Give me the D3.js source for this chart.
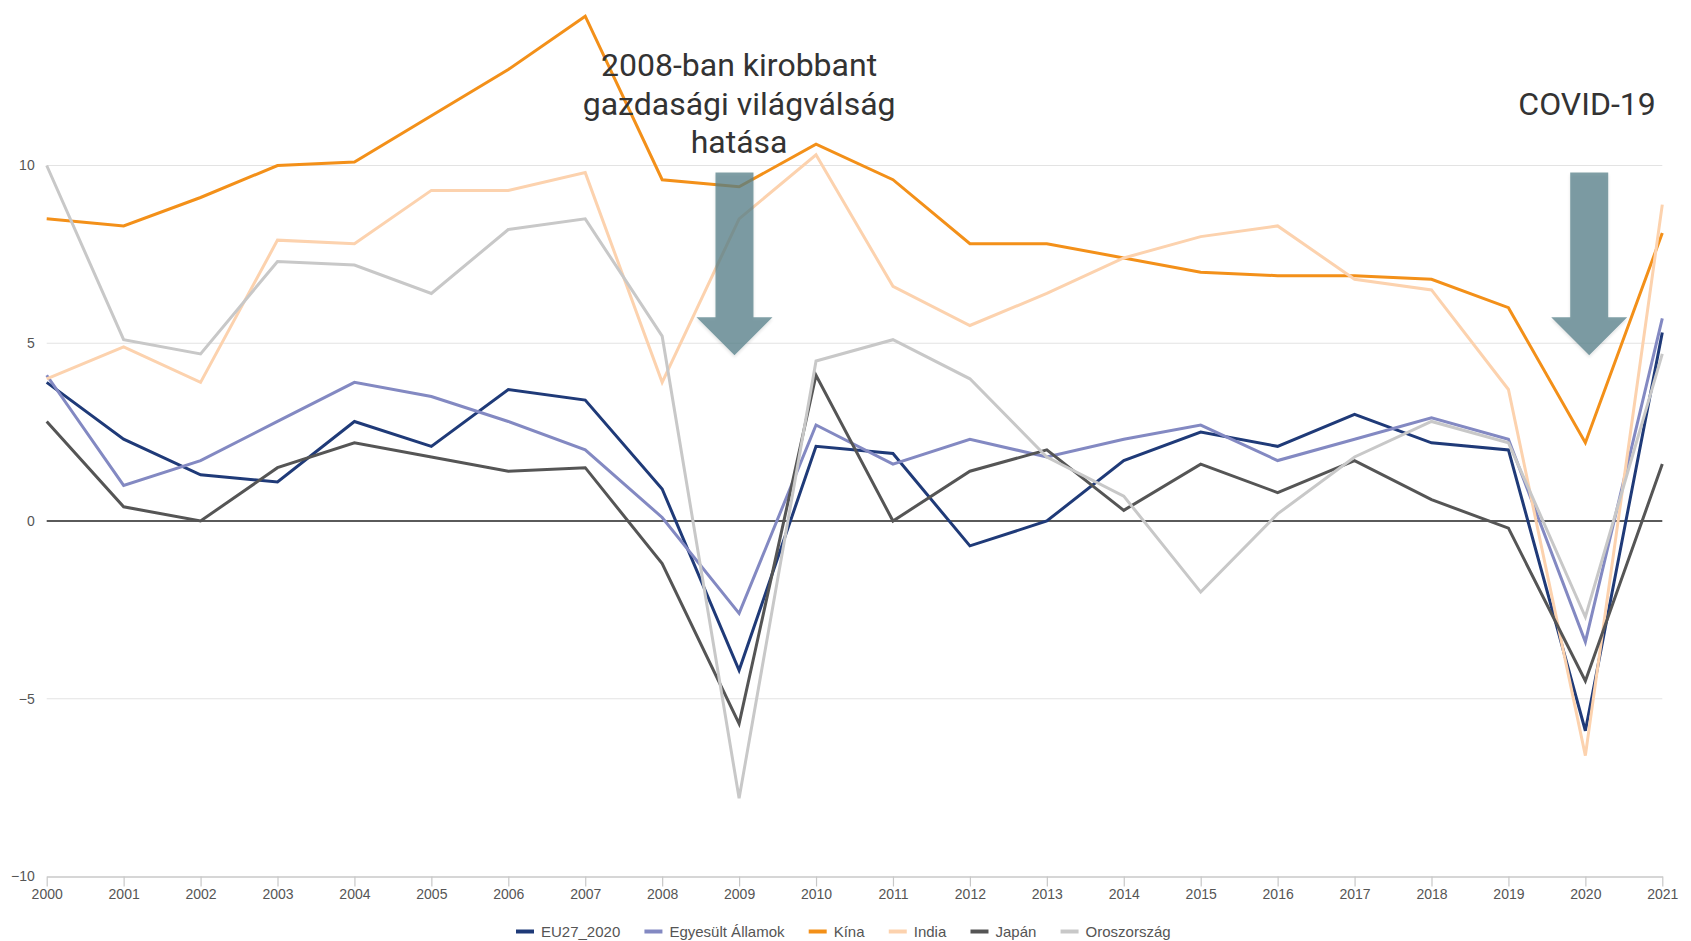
<!DOCTYPE html>
<html>
<head>
<meta charset="utf-8">
<script src="https://cdn.jsdelivr.net/npm/d3@7"></script>
<style>
  body { margin: 0; background: #fff; }
  svg { display: block; }
</style>
</head>
<body>
<svg id="chart" width="1691" height="941"></svg>
<script>
const years = [2000,2001,2002,2003,2004,2005,2006,2007,2008,2009,2010,2011,2012,2013,2014,2015,2016,2017,2018,2019,2020,2021];
const seriesNames = ["EU27_2020","Egyesült Államok","Kína","India","Japán","Oroszország"];
const seriesColors = ["#1f3a78","#8389c2","#f39019","#fcd2ae","#555555","#c8c8c8"];
const eu27   = [3.9,2.3,1.3,1.1,2.8,2.1,3.7,3.4,0.9,-4.2,2.1,1.9,-0.7,0.0,1.7,2.5,2.1,3.0,2.2,2.0,-5.9,5.3];
const usa    = [4.1,1.0,1.7,2.8,3.9,3.5,2.8,2.0,0.1,-2.6,2.7,1.6,2.3,1.8,2.3,2.7,1.7,2.3,2.9,2.3,-3.4,5.7];
const china  = [8.5,8.3,9.1,10.0,10.1,11.4,12.7,14.2,9.6,9.4,10.6,9.6,7.8,7.8,7.4,7.0,6.9,6.9,6.8,6.0,2.2,8.1];
const india  = [4.0,4.9,3.9,7.9,7.8,9.3,9.3,9.8,3.9,8.5,10.3,6.6,5.5,6.4,7.4,8.0,8.3,6.8,6.5,3.7,-6.6,8.9];
const japan  = [2.8,0.4,0.0,1.5,2.2,1.8,1.4,1.5,-1.2,-5.7,4.1,0.0,1.4,2.0,0.3,1.6,0.8,1.7,0.6,-0.2,-4.5,1.6];
const russia = [10.0,5.1,4.7,7.3,7.2,6.4,8.2,8.5,5.2,-7.8,4.5,5.1,4.0,1.8,0.7,-2.0,0.2,1.8,2.8,2.2,-2.7,4.7];
const seriesValues = [eu27, usa, china, india, japan, russia];
const yTicks = [-10,-5,0,5,10];
const annotationLines = [["2008-ban kirobbant","gazdasági világválság","hatása"],["COVID-19"]];
const annotationYears = [2009, 2020];
const arrowYears = [2008.94, 2020.05];

const svg = d3.select("#chart");
const x = d3.scaleLinear().domain([2000, 2021]).range([46.7, 1662.3]);
const y = d3.scaleLinear().domain([-10, 10]).range([876.5, 165.5]);

// grid lines
svg.append("g").selectAll("line")
  .data(yTicks.filter(v => v !== 0 && v !== -10))
  .join("line")
  .attr("x1", x(2000)).attr("x2", x(2021))
  .attr("y1", d => y(d)).attr("y2", d => y(d))
  .attr("stroke", "#e3e3e3").attr("stroke-width", 1.2);

// y axis labels
const yAxis = d3.axisLeft(y).tickValues(yTicks).tickSize(0).tickPadding(12);
const gy = svg.append("g").attr("transform", `translate(${x(2000)},0)`).call(yAxis);
gy.select(".domain").remove();
gy.selectAll("text").attr("font-family", "'Liberation Sans', Arial, sans-serif")
  .attr("font-size", 14).attr("fill", "#555");

// x axis
const xAxis = d3.axisBottom(x).tickValues(years).tickFormat(d3.format("d")).tickSize(10).tickSizeOuter(0).tickPadding(3);
const gx = svg.append("g").attr("transform", `translate(0,${y(-10)})`).call(xAxis);
gx.select(".domain").attr("stroke", "#c8c8c8").attr("stroke-width", 1.5);
gx.selectAll(".tick line").attr("stroke", "#c8c8c8").attr("stroke-width", 1.2);
gx.selectAll("text").attr("font-family", "'Liberation Sans', Arial, sans-serif")
  .attr("font-size", 14).attr("fill", "#555");

// zero line
svg.append("line")
  .attr("x1", x(2000)).attr("x2", x(2021))
  .attr("y1", y(0)).attr("y2", y(0))
  .attr("stroke", "#5a5a5a").attr("stroke-width", 2);

// clip
svg.append("clipPath").attr("id", "plotclip").append("rect")
  .attr("x", x(2000) - 3).attr("y", 0).attr("width", x(2021) - x(2000) + 5).attr("height", y(-10) + 5);

const line = d3.line().x((d, i) => x(years[i])).y(d => y(d));
svg.append("g").attr("clip-path", "url(#plotclip)").selectAll("path")
  .data(seriesValues)
  .join("path")
  .attr("d", d => line(d))
  .attr("fill", "none")
  .attr("stroke", (d, i) => seriesColors[i])
  .attr("stroke-width", 3)
  .attr("stroke-linejoin", "miter");

// arrows
const defs = svg.append("defs");
const f = defs.append("filter").attr("id", "shadow").attr("x", "-20%").attr("y", "-20%").attr("width", "140%").attr("height", "140%");
f.append("feDropShadow").attr("dx", 0).attr("dy", 2).attr("stdDeviation", 1.5).attr("flood-color", "#000").attr("flood-opacity", 0.15);

const arrowTop = 9.8, arrowHeadTop = 5.73, arrowTip = 4.66;
const shaftHalf = 19, headHalf = 38;
arrowYears.forEach(yr => {
  const cx = x(yr);
  const pts = [
    [cx - shaftHalf, y(arrowTop)], [cx + shaftHalf, y(arrowTop)],
    [cx + shaftHalf, y(arrowHeadTop)], [cx + headHalf, y(arrowHeadTop)],
    [cx, y(arrowTip)],
    [cx - headHalf, y(arrowHeadTop)], [cx - shaftHalf, y(arrowHeadTop)]
  ];
  svg.append("path")
    .attr("d", d3.line()(pts) + "Z")
    .attr("fill", "rgb(85,128,137)")
    .attr("fill-opacity", 0.75)
    .attr("filter", "url(#shadow)");
});

// annotation texts
const annBaselines = [[76, 114.5, 152.5], [115]];
annotationLines.forEach((lines, k) => {
  const t = svg.append("text")
    .attr("font-family", "Roboto, 'Noto Sans', sans-serif")
    .attr("font-size", 32)
    .attr("fill", "#333")
    .attr("text-anchor", "middle");
  lines.forEach((l, j) => {
    t.append("tspan").attr("x", k === 0 ? x(annotationYears[k]) : 1587).attr("y", annBaselines[k][j]).text(l);
  });
});

// legend
const legend = svg.append("g");
let lx = 516;
const ly = 931.5;
seriesNames.forEach((name, i) => {
  legend.append("line")
    .attr("x1", lx).attr("x2", lx + 18)
    .attr("y1", ly).attr("y2", ly)
    .attr("stroke", seriesColors[i]).attr("stroke-width", 4);
  const t = legend.append("text")
    .attr("x", lx + 25).attr("y", ly).attr("dy", "0.35em")
    .attr("font-family", "'Liberation Sans', Arial, sans-serif")
    .attr("font-size", 15).attr("fill", "#555")
    .text(name);
  lx += 25 + t.node().getComputedTextLength() + 24.2;
});
</script>
</body>
</html>
